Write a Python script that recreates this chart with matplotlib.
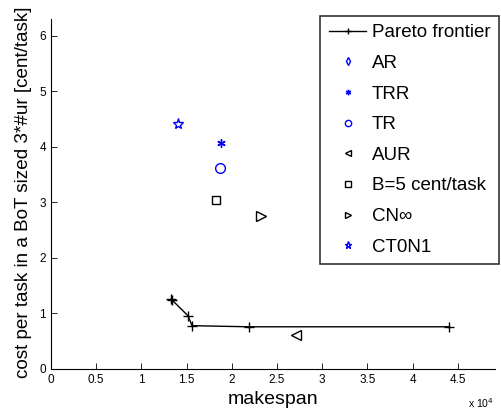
import matplotlib
matplotlib.use('Agg')
import matplotlib.pyplot as plt

plt.rcParams['font.family'] = ['Liberation Sans', 'DejaVu Sans']

# pareto frontier (makespan, cost)
pareto_x = [13300, 13400, 15150, 15600, 21900, 44000]
pareto_y = [1.26, 1.24, 0.96, 0.78, 0.76, 0.76]

# single policies
ar_x, ar_y = [], []
trr_x, trr_y = [18750], [4.07]
tr_x, tr_y = [18700], [3.62]
aur_x, aur_y = [27100], [0.61]
b5_x, b5_y = [18250], [3.05]
cn_x, cn_y = [23250], [2.76]
ct_x, ct_y = [14050], [4.41]

fig = plt.figure(figsize=(5.01, 4.16), dpi=100)
ax = fig.add_axes([0.1018, 0.113, 0.886, 0.841])

blue = '#0000ff'
ax.plot(pareto_x, pareto_y, color='black', marker='+', ms=7, lw=1, label='Pareto frontier')
ax.plot(ar_x, ar_y, ls='none', marker='d', mfc='none', mec=blue, ms=6, label='AR')
ax.plot(trr_x, trr_y, ls='none', marker=(6, 2, 0), color=blue, mec=blue, ms=6, lw=0.8, label='TRR')
ax.plot(tr_x, tr_y, ls='none', marker='o', mfc='none', mec=blue, ms=7, label='TR')
ax.plot(aur_x, aur_y, ls='none', marker='<', mfc='none', mec='black', ms=7, label='AUR')
ax.plot(b5_x, b5_y, ls='none', marker='s', mfc='none', mec='black', ms=6, label='B=5 cent/task')
ax.plot(cn_x, cn_y, ls='none', marker='>', mfc='none', mec='black', ms=7, label='CN\u221e')
ax.plot(ct_x, ct_y, ls='none', marker='*', mfc='none', mec=blue, ms=8, label='CT0N1')

ax.set_xlim(0, 49100)
ax.set_ylim(0, 6.3)
ax.set_xticks([0, 5000, 10000, 15000, 20000, 25000, 30000, 35000, 40000, 45000])
ax.set_xticklabels(['0', '0.5', '1', '1.5', '2', '2.5', '3', '3.5', '4', '4.5'])
ax.set_yticks([0, 1, 2, 3, 4, 5, 6])
ax.tick_params(direction='in', length=4, labelsize=8.5, width=0.6)
for s in ['top', 'right']:
    ax.spines[s].set_visible(False)
for s in ['left', 'bottom']:
    ax.spines[s].set_linewidth(0.8)

ax.set_xlabel('makespan', fontsize=14, labelpad=3.5)
ax.set_ylabel('cost per task in a BoT sized 3*#ur [cent/task]', fontsize=13.6)
ax.yaxis.set_label_coords(-0.042, 0.506)
fig.text(0.935, 0.02, 'x 10$^{4}$', fontsize=7.5)

leg = ax.legend(loc='upper right', bbox_to_anchor=(0.996, 0.962), bbox_transform=fig.transFigure,
                fontsize=13.5, frameon=True, fancybox=False, edgecolor='black',
                handlelength=2.0, labelspacing=0.72, borderpad=0.45, handletextpad=0.3,
                borderaxespad=0, markerscale=0.65)
leg.get_frame().set_linewidth(1.2)

fig.savefig('out.png', dpi=100)
